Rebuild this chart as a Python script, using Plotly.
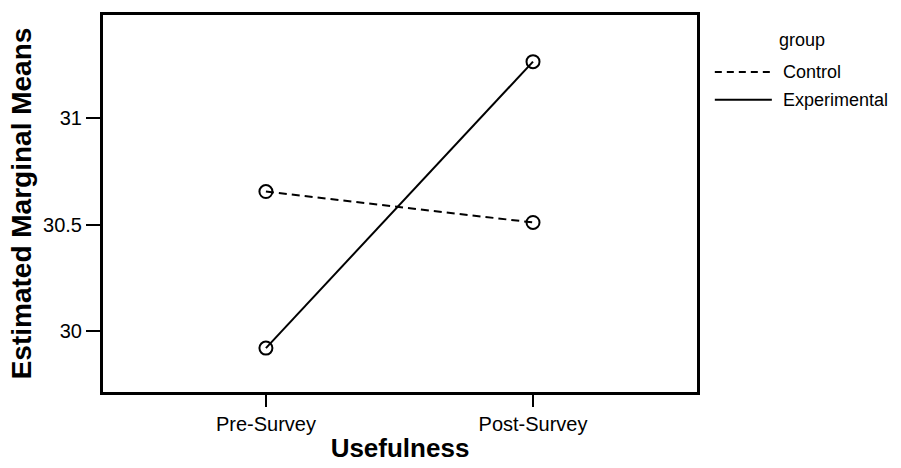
import plotly.graph_objects as go

categories = ["Pre-Survey", "Post-Survey"]
control = [30.655, 30.51]
experimental = [29.92, 31.265]
y_ticks = [30, 30.5, 31]
y_tick_labels = ["30", "30.5", "31"]
legend_title = "group"
series_names = ["Control", "Experimental"]

DASH = "8px,5px"

fig = go.Figure()
fig.add_trace(go.Scatter(
    x=[0, 1], y=control, name=series_names[0], mode="lines+markers",
    line=dict(color="black", width=2, dash=DASH),
    marker=dict(symbol="circle-open", size=13, color="black", line=dict(width=2)),
    showlegend=False,
))
fig.add_trace(go.Scatter(
    x=[0, 1], y=experimental, name=series_names[1], mode="lines+markers",
    line=dict(color="black", width=2),
    marker=dict(symbol="circle-open", size=13, color="black", line=dict(width=2)),
    showlegend=False,
))

# manual legend (lines only, like the reference)
leg_rows = [(0.849, "7px,5px", series_names[0]), (0.775, "solid", series_names[1])]
for ypos, dash, label in leg_rows:
    fig.add_shape(type="line", xref="paper", yref="paper",
                  x0=1.030, x1=1.126, y0=ypos, y1=ypos,
                  line=dict(color="black", width=2, dash=dash))
    fig.add_annotation(xref="paper", yref="paper", x=1.141, y=ypos,
                       text=label, showarrow=False, xanchor="left", yanchor="middle",
                       font=dict(size=18))
fig.add_annotation(xref="paper", yref="paper", x=1.177, y=0.934,
                   text=legend_title, showarrow=False, xanchor="center", yanchor="middle",
                   font=dict(size=18))

font_family = "Liberation Sans, Arial, sans-serif"
fig.update_layout(
    width=901, height=468,
    margin=dict(l=103, r=204, t=15, b=76),
    paper_bgcolor="white", plot_bgcolor="white",
    font=dict(family=font_family, color="black", size=20),
    showlegend=False,
    xaxis=dict(
        range=[-0.61, 1.614], automargin=False,
        tickmode="array", tickvals=[0, 1], ticktext=categories,
        tickfont=dict(size=20),
        ticks="outside", ticklen=12, tickwidth=2, tickcolor="black",
        showline=True, linewidth=3, linecolor="black", mirror=True,
        showgrid=False, zeroline=False,
        title=dict(text="<b>Usefulness</b>", font=dict(size=26), standoff=5),
    ),
    yaxis=dict(
        range=[29.714, 31.484], automargin=False,
        tickmode="array", tickvals=y_ticks, ticktext=y_tick_labels,
        tickfont=dict(size=20),
        ticks="outside", ticklen=14, tickwidth=2, tickcolor="black",
        showline=True, linewidth=3, linecolor="black", mirror=True,
        showgrid=False, zeroline=False,
        title=dict(text="<b>Estimated Marginal Means</b>", font=dict(size=28), standoff=4),
    ),
)

fig.write_html("out.html")
